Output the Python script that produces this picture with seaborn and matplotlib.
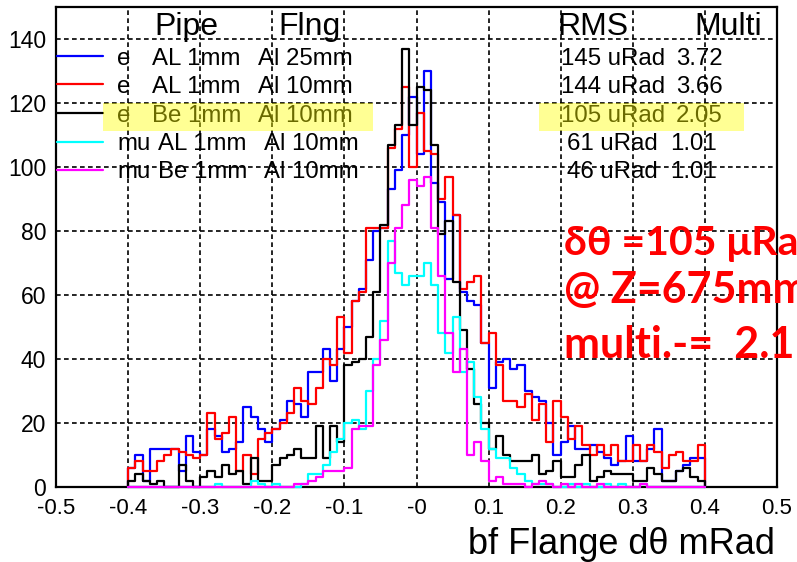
import numpy as np
import pandas as pd
import matplotlib
matplotlib.use("Agg")
import matplotlib.pyplot as plt
from matplotlib.lines import Line2D
from matplotlib.patches import Rectangle
from matplotlib.ticker import AutoMinorLocator
import seaborn as sns

# ---- histogram data: d-theta behind the flange, 80 bins of 0.01 mRad from -0.4 to 0.4 ----
bin_lo = -0.4
bin_hi = 0.4
n_bins = 80

e_al1_al25 = [6, 10, 2, 12, 12, 12, 12, 5, 16, 11,
              10, 18, 16, 11, 12, 14, 25, 22, 18, 14,
              18, 21, 27, 26, 22, 36, 36, 43, 33, 43,
              50, 58, 62, 71, 80, 81, 93, 99, 110, 122,
              104, 130, 95, 89, 65, 85, 61, 58, 57, 45,
              31, 39, 40, 37, 38, 30, 28, 27, 20, 10,
              14, 19, 12, 12, 13, 11, 9, 7, 8, 16,
              8, 8, 12, 18, 2, 2, 5, 7, 9, 9]

e_al1_al10 = [6, 8, 5, 5, 8, 10, 12, 11, 10, 9,
              10, 23, 15, 17, 22, 5, 10, 4, 15, 17,
              18, 20, 23, 31, 27, 26, 31, 40, 38, 53,
              42, 58, 61, 81, 81, 81, 106, 112, 125, 100,
              117, 105, 104, 90, 97, 85, 62, 64, 66, 45,
              48, 38, 27, 27, 25, 29, 21, 26, 14, 27,
              22, 15, 19, 13, 10, 13, 10, 13, 8, 8,
              13, 8, 13, 11, 6, 10, 11, 8, 8, 13]

e_be1_al10 = [2, 4, 2, 1, 2, 0, 0, 7, 2, 0,
              3, 5, 3, 7, 4, 5, 1, 9, 2, 2,
              7, 9, 10, 12, 9, 9, 19, 9, 19, 14,
              38, 39, 40, 47, 61, 82, 107, 113, 137, 113,
              125, 124, 107, 79, 83, 64, 49, 37, 26, 20,
              12, 16, 10, 8, 8, 8, 10, 4, 5, 8,
              3, 3, 7, 10, 2, 3, 5, 4, 4, 4,
              2, 2, 6, 4, 2, 2, 5, 6, 3, 2]

mu_al1_al10 = [0, 0, 0, 0, 0, 0, 0, 0, 0, 0,
               0, 0, 1, 0, 0, 0, 0, 2, 1, 0,
               1, 0, 0, 0, 1, 4, 4, 7, 11, 15,
               20, 21, 18, 30, 40, 52, 77, 67, 63, 66,
               66, 70, 63, 48, 42, 53, 36, 39, 28, 18,
               12, 9, 9, 6, 4, 2, 1, 1, 1, 0,
               0, 1, 0, 1, 0, 0, 1, 0, 1, 0,
               0, 1, 0, 0, 0, 0, 0, 0, 0, 0]

mu_be1_al10 = [0, 0, 0, 0, 0, 0, 0, 0, 0, 0,
               0, 0, 0, 0, 0, 0, 0, 0, 0, 0,
               0, 0, 0, 1, 1, 2, 3, 5, 5, 5,
               6, 18, 19, 19, 38, 46, 70, 81, 88, 96,
               94, 97, 81, 66, 48, 36, 43, 10, 14, 8,
               2, 3, 1, 1, 1, 0, 1, 2, 1, 0,
               1, 0, 1, 0, 0, 1, 0, 0, 0, 0,
               0, 1, 0, 0, 0, 0, 0, 0, 0, 0]

series_values = [e_al1_al25, e_al1_al10, e_be1_al10, mu_al1_al10, mu_be1_al10]
series_colors = ["#0000ff", "#ff0000", "#000000", "#00ffff", "#ff00ff"]

# legend table columns: particle, beam pipe, flange
particles = ["e", "e", "e", "mu", "mu"]
pipes = ["AL 1mm", "AL 1mm", "Be 1mm", "AL 1mm", "Be 1mm"]
flanges = ["Al 25mm", "Al 10mm", "Al 10mm", "Al 10mm", "Al 10mm"]
rms_urad = ["145", "144", "105", "61", "46"]
multi = ["3.72", "3.66", "2.05", "1.01", "1.01"]

header_text = ["Pipe", "Flng", "RMS", "Multi"]
x_tick_values = [-0.5, -0.4, -0.3, -0.2, -0.1, 0.0, 0.1, 0.2, 0.3, 0.4, 0.5]
x_tick_labels = ["-0.5", "-0.4", "-0.3", "-0.2", "-0.1", "-0", "0.1", "0.2", "0.3", "0.4", "0.5"]
y_tick_values = [0, 20, 40, 60, 80, 100, 120, 140]
note_lines = ["\u03b4\u03b8 =105 \u03bcRad", "@ Z=675mm", "multi.-=  2.1"]
x_title = "bf Flange d\u03b8 mRad"

# ---- figure setup ----
sns.set_style("white")
plt.rcParams["font.family"] = ["Liberation Sans", "DejaVu Sans"]

W, H = 797, 562
fig = plt.figure(figsize=(W / 100, H / 100), dpi=100)


def fx(x):
    return x / W


def fy(y):
    return 1 - y / H


ax = fig.add_axes([fx(56), fy(487), (777 - 56) / W, (487 - 7) / H])

# zero-width guard bins so every outline drops to the baseline at both ends
edges = np.linspace(bin_lo, bin_hi, n_bins + 1)
eps = 1e-6
edges_ext = np.concatenate([[bin_lo - eps], edges, [bin_hi + eps]])
centers_ext = 0.5 * (edges_ext[:-1] + edges_ext[1:])
bin_list = [float(e) for e in edges_ext]

labels = [f"{p} {a} {b}" for p, a, b in zip(particles, pipes, flanges)]
frames = []
for name, vals in zip(labels, series_values):
    frames.append(pd.DataFrame({"dtheta": centers_ext,
                                "count": np.concatenate([[0.0], np.asarray(vals, float), [0.0]]),
                                "sample": name}))
df = pd.concat(frames, ignore_index=True)

for name, color in zip(labels, series_colors):
    sub = df[df["sample"] == name]
    sns.histplot(data=sub, x="dtheta", weights="count", bins=bin_list,
                 element="step", fill=False, color=color, linewidth=1.6,
                 ax=ax, zorder=3, clip_on=False)

ax.set_xlim(-0.5, 0.5)
ax.set_ylim(0, 150)
ax.set_xlabel("")
ax.set_ylabel("")

ax.set_xticks(x_tick_values)
ax.set_xticklabels(x_tick_labels)
ax.set_yticks(y_tick_values)
ax.set_yticklabels([str(v) for v in y_tick_values])
ax.xaxis.set_minor_locator(AutoMinorLocator(5))
ax.yaxis.set_minor_locator(AutoMinorLocator(5))
ax.tick_params(axis="both", which="major", direction="out", length=5, width=1.2,
               colors="black")
ax.tick_params(axis="x", which="major", labelsize=16, pad=3)
ax.tick_params(axis="y", which="major", labelsize=16.5, pad=2)
ax.tick_params(axis="both", which="minor", direction="out", length=3, width=1.0)
ax.tick_params(top=False, right=False, which="both")

ax.grid(True, which="major", color="black", linestyle=(0, (2.8, 2.0)), linewidth=1.2, zorder=1)
ax.set_axisbelow(True)
for sp in ax.spines.values():
    sp.set_visible(True)
    sp.set_color("black")
    sp.set_linewidth(1.6)

# ---- column headers and legend table ----
header_x = [154, 278, 557, 694]
for txt, x in zip(header_text, header_x):
    fig.text(fx(x), fy(35), txt, fontsize=23, color="black", ha="left", va="baseline")

row_baselines = [65, 93, 122, 150, 178]
row_lines = [56, 84, 113, 142, 170]
row_fs = 17.3
for k in range(len(particles)):
    yb, yl = row_baselines[k], row_lines[k]
    shift = 6 if particles[k] == "mu" else 0
    fig.add_artist(Line2D([fx(57), fx(103)], [fy(yl), fy(yl)], color=series_colors[k],
                          linewidth=1.6, transform=fig.transFigure, zorder=4))
    fig.text(fx(117), fy(yb), particles[k], fontsize=row_fs, color="black", ha="left", va="baseline")
    fig.text(fx(152 + shift), fy(yb), pipes[k], fontsize=row_fs, color="black", ha="left", va="baseline")
    fig.text(fx(258 + shift), fy(yb), flanges[k], fontsize=row_fs, color="black", ha="left", va="baseline")
    short = len(rms_urad[k]) < 3
    fig.text(fx(567 if short else 561), fy(yb), f"{rms_urad[k]} uRad", fontsize=row_fs,
             color="black", ha="left", va="baseline")
    fig.text(fx(670 if short else 676), fy(yb), multi[k], fontsize=row_fs,
             color="black", ha="left", va="baseline")

# highlight of the Be-pipe electron row
for x0, x1 in [(103, 373), (539, 744)]:
    fig.add_artist(Rectangle((fx(x0), fy(131)), (x1 - x0) / W, (131 - 103) / H,
                             transform=fig.transFigure, facecolor="#ffff00",
                             edgecolor="none", alpha=0.42, zorder=6))

# red summary note
for txt, yb, fs in zip(note_lines, [255, 303, 358], [29.5, 31, 31]):
    fig.text(fx(564), fy(yb), txt, fontsize=fs, fontweight="bold", color="#ff0000",
             family=["Lato", "DejaVu Sans"], ha="left", va="baseline")

fig.text(fx(775), fy(554), x_title, fontsize=26, color="black", ha="right", va="baseline")

fig.savefig("out.png", dpi=100)
